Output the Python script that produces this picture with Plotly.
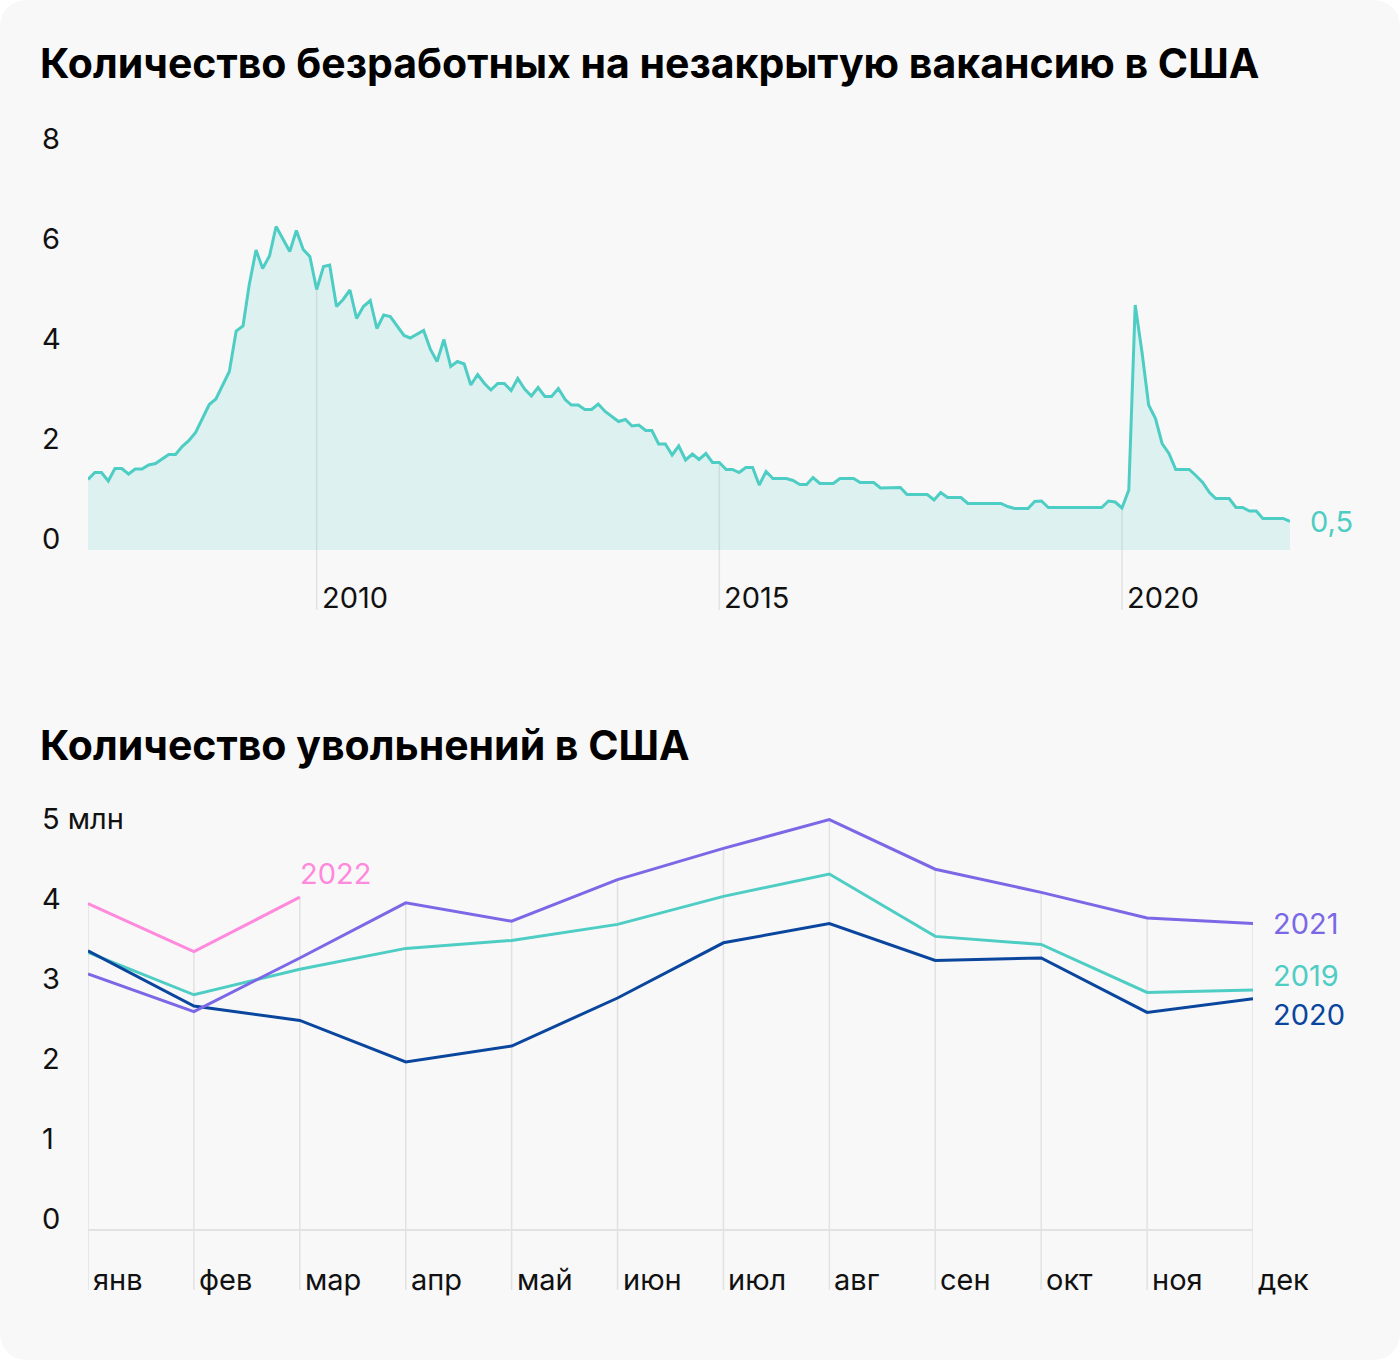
import plotly.graph_objects as go
import pandas as pd

W, H = 1400, 1360
FONT = "Inter, Roboto, sans-serif"
TICK_SIZE = 29
TITLE_SIZE = 41

# ---------------- data: top chart ----------------
start_month = "2007-03-01"
ratio = [
    1.41, 1.55, 1.55, 1.38, 1.63, 1.63, 1.52, 1.62, 1.62, 1.70,
    1.73, 1.83, 1.91, 1.91, 2.07, 2.19, 2.35, 2.63, 2.91, 3.02,
    3.30, 3.57, 4.38, 4.48, 5.30, 6.00, 5.63, 5.88, 6.47, 6.22,
    5.97, 6.39, 6.01, 5.87, 5.21, 5.67, 5.70, 4.87, 5.01, 5.20,
    4.63, 4.87, 4.99, 4.43, 4.70, 4.67, 4.47, 4.29, 4.24, 4.31,
    4.39, 4.01, 3.77, 4.21, 3.67, 3.77, 3.72, 3.30, 3.51, 3.33,
    3.20, 3.33, 3.33, 3.19, 3.43, 3.22, 3.08, 3.25, 3.07, 3.07,
    3.23, 3.01, 2.90, 2.90, 2.81, 2.81, 2.92, 2.77, 2.67, 2.57,
    2.61, 2.48, 2.50, 2.39, 2.39, 2.12, 2.12, 1.90, 2.08, 1.80,
    1.92, 1.81, 1.93, 1.75, 1.75, 1.61, 1.61, 1.55, 1.65, 1.65,
    1.30, 1.57, 1.43, 1.43, 1.43, 1.39, 1.31, 1.31, 1.45, 1.33,
    1.33, 1.33, 1.43, 1.43, 1.43, 1.35, 1.35, 1.35, 1.24, 1.24,
    1.24, 1.25, 1.11, 1.11, 1.11, 1.11, 1.00, 1.15, 1.05, 1.05,
    1.05, 0.93, 0.93, 0.93, 0.93, 0.93, 0.93, 0.87, 0.83, 0.83,
    0.83, 0.97, 0.98, 0.85, 0.85, 0.85, 0.85, 0.85, 0.85, 0.85,
    0.85, 0.85, 0.98, 0.96, 0.84, 1.20, 4.90, 3.95, 2.90, 2.63,
    2.13, 1.93, 1.61, 1.61, 1.61, 1.49, 1.35, 1.15, 1.03, 1.03,
    1.03, 0.85, 0.85, 0.78, 0.78, 0.63, 0.63, 0.63, 0.63, 0.57,
]
dates = pd.date_range(start_month, periods=len(ratio), freq="MS")
top_year_ticks = [2010, 2015, 2020]
top_y_ticks = [0, 2, 4, 6, 8]
last_label = "0,5"

# ---------------- data: bottom chart ----------------
months = ["янв", "фев", "мар", "апр", "май", "июн",
          "июл", "авг", "сен", "окт", "ноя", "дек"]
quits_2019 = [3.47, 2.94, 3.26, 3.52, 3.62, 3.82, 4.17, 4.45, 3.67, 3.57, 2.97, 3.00]
quits_2020 = [3.49, 2.80, 2.62, 2.10, 2.30, 2.90, 3.59, 3.83, 3.37, 3.40, 2.72, 2.89]
quits_2021 = [3.20, 2.73, 3.40, 4.09, 3.86, 4.38, 4.77, 5.13, 4.51, 4.22, 3.90, 3.83]
quits_2022 = [4.08, 3.48, 4.16]
bottom_y_ticks = [0, 1, 2, 3, 4, 5]
bottom_y_labels = ["0", "1", "2", "3", "4", "5 млн"]

TEAL = "#4ECDC4"
PURPLE = "#7B68E6"
NAVY = "#0A469E"
PINK = "#FF89DC"
GRID = "#E2E2E2"
TXT = "#111111"


def px_x(x):
    return x / W


def px_y(y):
    return 1 - y / H


fig = go.Figure()

# top area
fig.add_trace(go.Scatter(
    x=dates, y=ratio, mode="lines", fill="tozeroy",
    line=dict(color=TEAL, width=3),
    fillcolor="rgba(78,205,196,0.16)",
    xaxis="x", yaxis="y", showlegend=False, hoverinfo="skip",
))

# bottom lines
series = [("2019", quits_2019, TEAL), ("2020", quits_2020, NAVY),
          ("2021", quits_2021, PURPLE), ("2022", quits_2022, PINK)]
for name, vals, col in series:
    fig.add_trace(go.Scatter(
        x=months[:len(vals)], y=vals, mode="lines", name=name,
        line=dict(color=col, width=3),
        xaxis="x2", yaxis="y2", showlegend=False, hoverinfo="skip",
    ))

top_ymin, top_ymax = -1.4, 8.4
bot_ymin, bot_ymax = -0.9, 5.3
fig.update_layout(
    xaxis=dict(domain=[px_x(88), px_x(1290)], range=[dates[0], dates[-1]],
               showgrid=False, zeroline=False, showticklabels=False,
               showline=False, ticks="", anchor="y"),
    yaxis=dict(domain=[px_y(620), px_y(130)], range=[top_ymin, top_ymax],
               showgrid=False, zeroline=False, showticklabels=False,
               showline=False, ticks="", anchor="x"),
    xaxis2=dict(domain=[px_x(88), px_x(1253)], range=[0, 11],
                type="category", categoryorder="array", categoryarray=months,
                showgrid=False, zeroline=False, showticklabels=False,
                showline=False, ticks="", anchor="y2"),
    yaxis2=dict(domain=[px_y(1302), px_y(806)], range=[bot_ymin, bot_ymax],
                showgrid=False, zeroline=True, zerolinecolor=GRID, zerolinewidth=2,
                showticklabels=False, showline=False, ticks="", anchor="x2"),
)

shapes = []
rx, ry = 30 / W, 30 / H
shapes.append(dict(
    type="path", xref="paper", yref="paper", layer="below",
    path=(f"M {rx},0 L {1-rx},0 Q 1,0 1,{ry} L 1,{1-ry} Q 1,1 {1-rx},1 "
          f"L {rx},1 Q 0,1 0,{1-ry} L 0,{ry} Q 0,0 {rx},0 Z"),
    fillcolor="#F8F8F8", line=dict(width=0),
))

annotations = []
for yr in top_year_ticks:
    d = pd.Timestamp(f"{yr}-01-01")
    idx = dates.get_loc(d)
    shapes.append(dict(type="line", xref="x", yref="y", layer="below",
                       x0=d, x1=d, y0=ratio[idx], y1=-1.2,
                       line=dict(color=GRID, width=1.5)))
    annotations.append(dict(x=d, y=-1.2, xref="x", yref="y", text=str(yr),
                            xanchor="left", yanchor="bottom", xshift=3, yshift=-7,
                            showarrow=False, font=dict(size=TICK_SIZE, color=TXT, family=FONT)))

for v in top_y_ticks:
    annotations.append(dict(x=px_x(40), y=v, xref="paper", yref="y", text=str(v),
                            xanchor="left", yanchor="bottom", yshift=-8,
                            showarrow=False, font=dict(size=TICK_SIZE, color=TXT, family=FONT)))

annotations.append(dict(x=dates[-1], y=ratio[-1], xref="x", yref="y", text=last_label,
                        xanchor="left", yanchor="middle", xshift=18,
                        showarrow=False, font=dict(size=TICK_SIZE, color=TEAL, family=FONT)))

for i, m in enumerate(months):
    top_val = max(vals[i] for _, vals, _ in series if i < len(vals))
    shapes.append(dict(type="line", xref="x2", yref="y2", layer="below",
                       x0=i, x1=i, y0=top_val, y1=-0.75,
                       line=dict(color=GRID, width=1.5)))
    annotations.append(dict(x=i, y=-0.75, xref="x2", yref="y2", text=m,
                            xanchor="left", yanchor="bottom", xshift=3, yshift=-9,
                            showarrow=False, font=dict(size=TICK_SIZE, color=TXT, family=FONT)))

for v, lab in zip(bottom_y_ticks, bottom_y_labels):
    annotations.append(dict(x=px_x(40), y=v, xref="paper", yref="y2", text=lab,
                            xanchor="left", yanchor="bottom", yshift=-8,
                            showarrow=False, font=dict(size=TICK_SIZE, color=TXT, family=FONT)))

label_shift = {"2019": 15, "2020": -16, "2021": 0}
for name, vals, col in series:
    if name == "2022":
        annotations.append(dict(x=len(vals) - 1, y=vals[-1], xref="x2", yref="y2",
                                text=name, xanchor="left", yanchor="bottom",
                                xshift=-2, yshift=4, showarrow=False,
                                font=dict(size=TICK_SIZE, color=col, family=FONT)))
    else:
        annotations.append(dict(x=len(vals) - 1, y=vals[-1], xref="x2", yref="y2",
                                text=name, xanchor="left", yanchor="middle",
                                xshift=18, yshift=label_shift[name], showarrow=False,
                                font=dict(size=TICK_SIZE, color=col, family=FONT)))

annotations.append(dict(x=px_x(38), y=px_y(63), xref="paper", yref="paper",
                        text="<b>Количество безработных на незакрытую вакансию в США</b>",
                        xanchor="left", yanchor="middle", showarrow=False,
                        font=dict(size=TITLE_SIZE, color="#000", family=FONT)))
annotations.append(dict(x=px_x(38), y=px_y(745), xref="paper", yref="paper",
                        text="<b>Количество увольнений в США</b>",
                        xanchor="left", yanchor="middle", showarrow=False,
                        font=dict(size=TITLE_SIZE, color="#000", family=FONT)))

fig.update_layout(
    width=W, height=H,
    margin=dict(l=0, r=0, t=0, b=0),
    paper_bgcolor="#FFFFFF", plot_bgcolor="rgba(0,0,0,0)",
    shapes=shapes, annotations=annotations,
    font=dict(family=FONT),
)

fig.write_html("out.html", config={"displayModeBar": False},
               post_script="document.body.style.margin='0';")
